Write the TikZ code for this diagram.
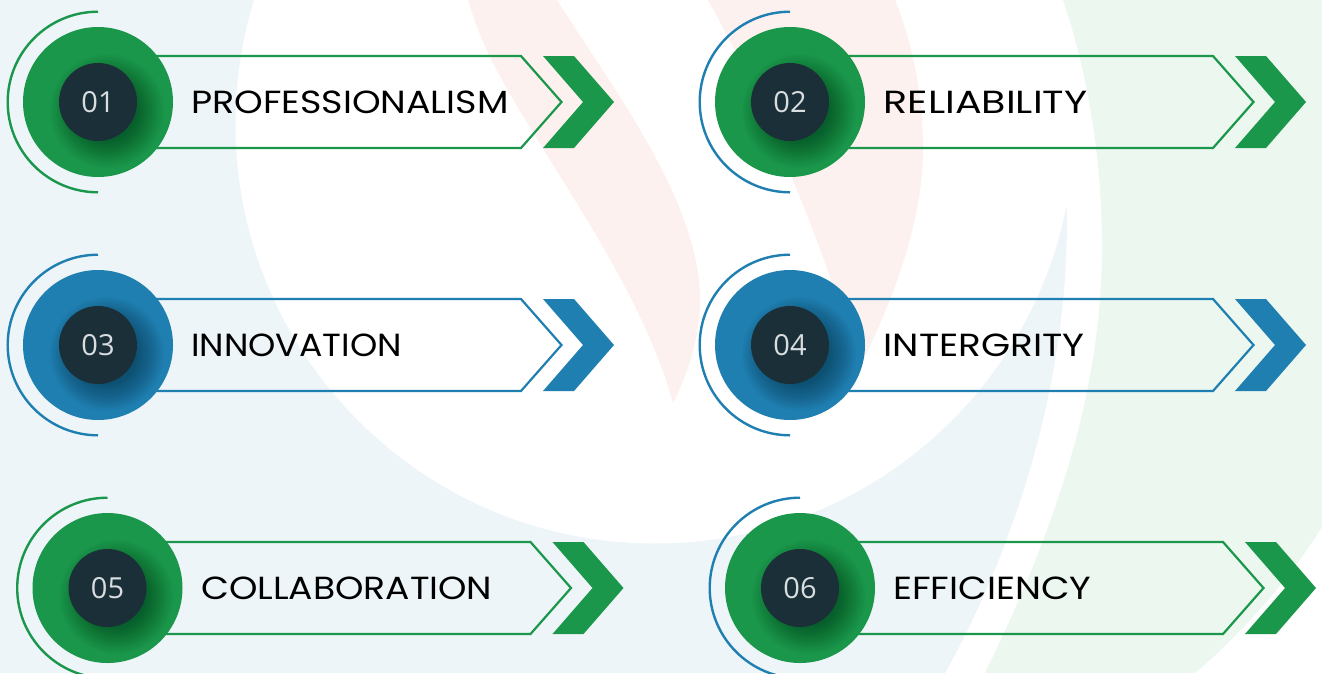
\documentclass[tikz,border=0pt]{standalone}
\usepackage{fontspec}
\setmainfont{Poppins}
\newfontfamily\numfont{Open Sans}
\definecolor{cgreen}{HTML}{1A974B}
\definecolor{cblue}{HTML}{1F7FB1}
\definecolor{cdark}{HTML}{1B2F38}
\definecolor{bgblue}{HTML}{EDF5F9}
\definecolor{bggreen}{HTML}{ECF7F0}
\definecolor{bgred}{HTML}{FCF1EF}
\definecolor{cnum}{HTML}{D8DDDF}
\tikzset{
  outerdisc/.style={circle,inner sep=0pt,minimum size=150pt},
  innerdisc/.style={circle,inner sep=0pt,minimum size=78pt,fill=cdark},
  numtext/.style={text=cnum,font=\numfont\fontsize{29}{29}\selectfont,inner sep=0pt,anchor=base},
  labeltext/.style={text=black,font=\fontsize{32}{32}\selectfont,inner sep=0pt,anchor=base west},
  ribbon/.style={line width=2.2pt,line join=miter},
  halo/.style={line width=2.4pt,line cap=butt}
}
\newcommand{\rowitem}[9]{%
  % id, x, y, main colour, arc colour, number, label, label x-offset, label x-scale
  \begin{scope}[shift={(#2,#3)}]
    \draw[ribbon,#4] (30,-46) -- (423,-46) -- (463.5,0) -- (423,46) -- (30,46);
    \fill[#4] (445,-46) -- (476,-46) -- (516,0) -- (476,46) -- (445,46) -- (485,0) -- cycle;
    \coordinate (a#1) at (0,-90.3);
    \draw[halo,#5] (a#1) arc[start angle=90,end angle=270,radius=90.3pt];
    \node[outerdisc,fill=#4] (o#1) at (0,0) {};
    \begin{scope}
      \clip (0,0) circle[radius=75pt];
      \foreach \r in {30,31.5,...,57}{\fill[black,opacity=.019] (9,9) circle[radius=\r pt];}
    \end{scope}
    \node[innerdisc] (i#1) at (0,0) {};
    \node[numtext] (n#1) at (0,10.5) {#6};
    \node[labeltext] (t#1) at (#8,11.5) {\scalebox{#9}[1]{#7}};
  \end{scope}}
\begin{document}
\begin{tikzpicture}[x=1pt,y=-1pt]
\useasboundingbox (0,0) rectangle (1322,673);
\fill[white] (0,0) rectangle (1322,673);
% pale green sweep
\fill[bggreen] (1322,0) -- (1063,0)
  .. controls (1090,80) and (1102,165) .. (1102,247)
  .. controls (1102,400) and (1050,540) .. (985,673)
  -- (1195,673)
  .. controls (1240,635) and (1285,585) .. (1322,527) -- cycle;
% pale blue sweep, cut by the large white disc
\fill[bgblue] (0,0) -- (655,0) -- (655,124) -- (1066.7,208)
  .. controls (1070,350) and (1030,520) .. (945,673)
  -- (0,673) -- cycle;
\fill[white] (655,124) circle[radius=419.5pt];
% pale red ribbons
\fill[bgred] (468,0) -- (557,0)
  .. controls (610,85) and (700,200) .. (700,300)
  .. controls (700,340) and (685,380) .. (673,403)
  .. controls (650,320) and (600,240) .. (550,160)
  .. controls (520,110) and (485,60) .. (468,0) -- cycle;
\fill[bgred] (708,0) -- (895,0)
  .. controls (915,50) and (923,100) .. (923,150)
  .. controls (923,230) and (885,320) .. (848,390)
  .. controls (842,350) and (836,310) .. (830,277)
  .. controls (800,190) and (745,65) .. (708,0) -- cycle;
\rowitem{1}{98}{102}{cgreen}{cgreen}{01}{PROFESSIONALISM}{93}{1.14}
\rowitem{2}{790}{102}{cgreen}{cblue}{02}{RELIABILITY}{93.5}{1.24}
\rowitem{3}{98}{345}{cblue}{cblue}{03}{INNOVATION}{93}{1.085}
\rowitem{4}{790}{345}{cblue}{cblue}{04}{INTERGRITY}{93.5}{1.17}
\rowitem{5}{107.5}{588}{cgreen}{cgreen}{05}{COLLABORATION}{93.5}{1.13}
\rowitem{6}{800}{588}{cgreen}{cblue}{06}{EFFICIENCY}{93}{1.155}
\end{tikzpicture}
\end{document}
